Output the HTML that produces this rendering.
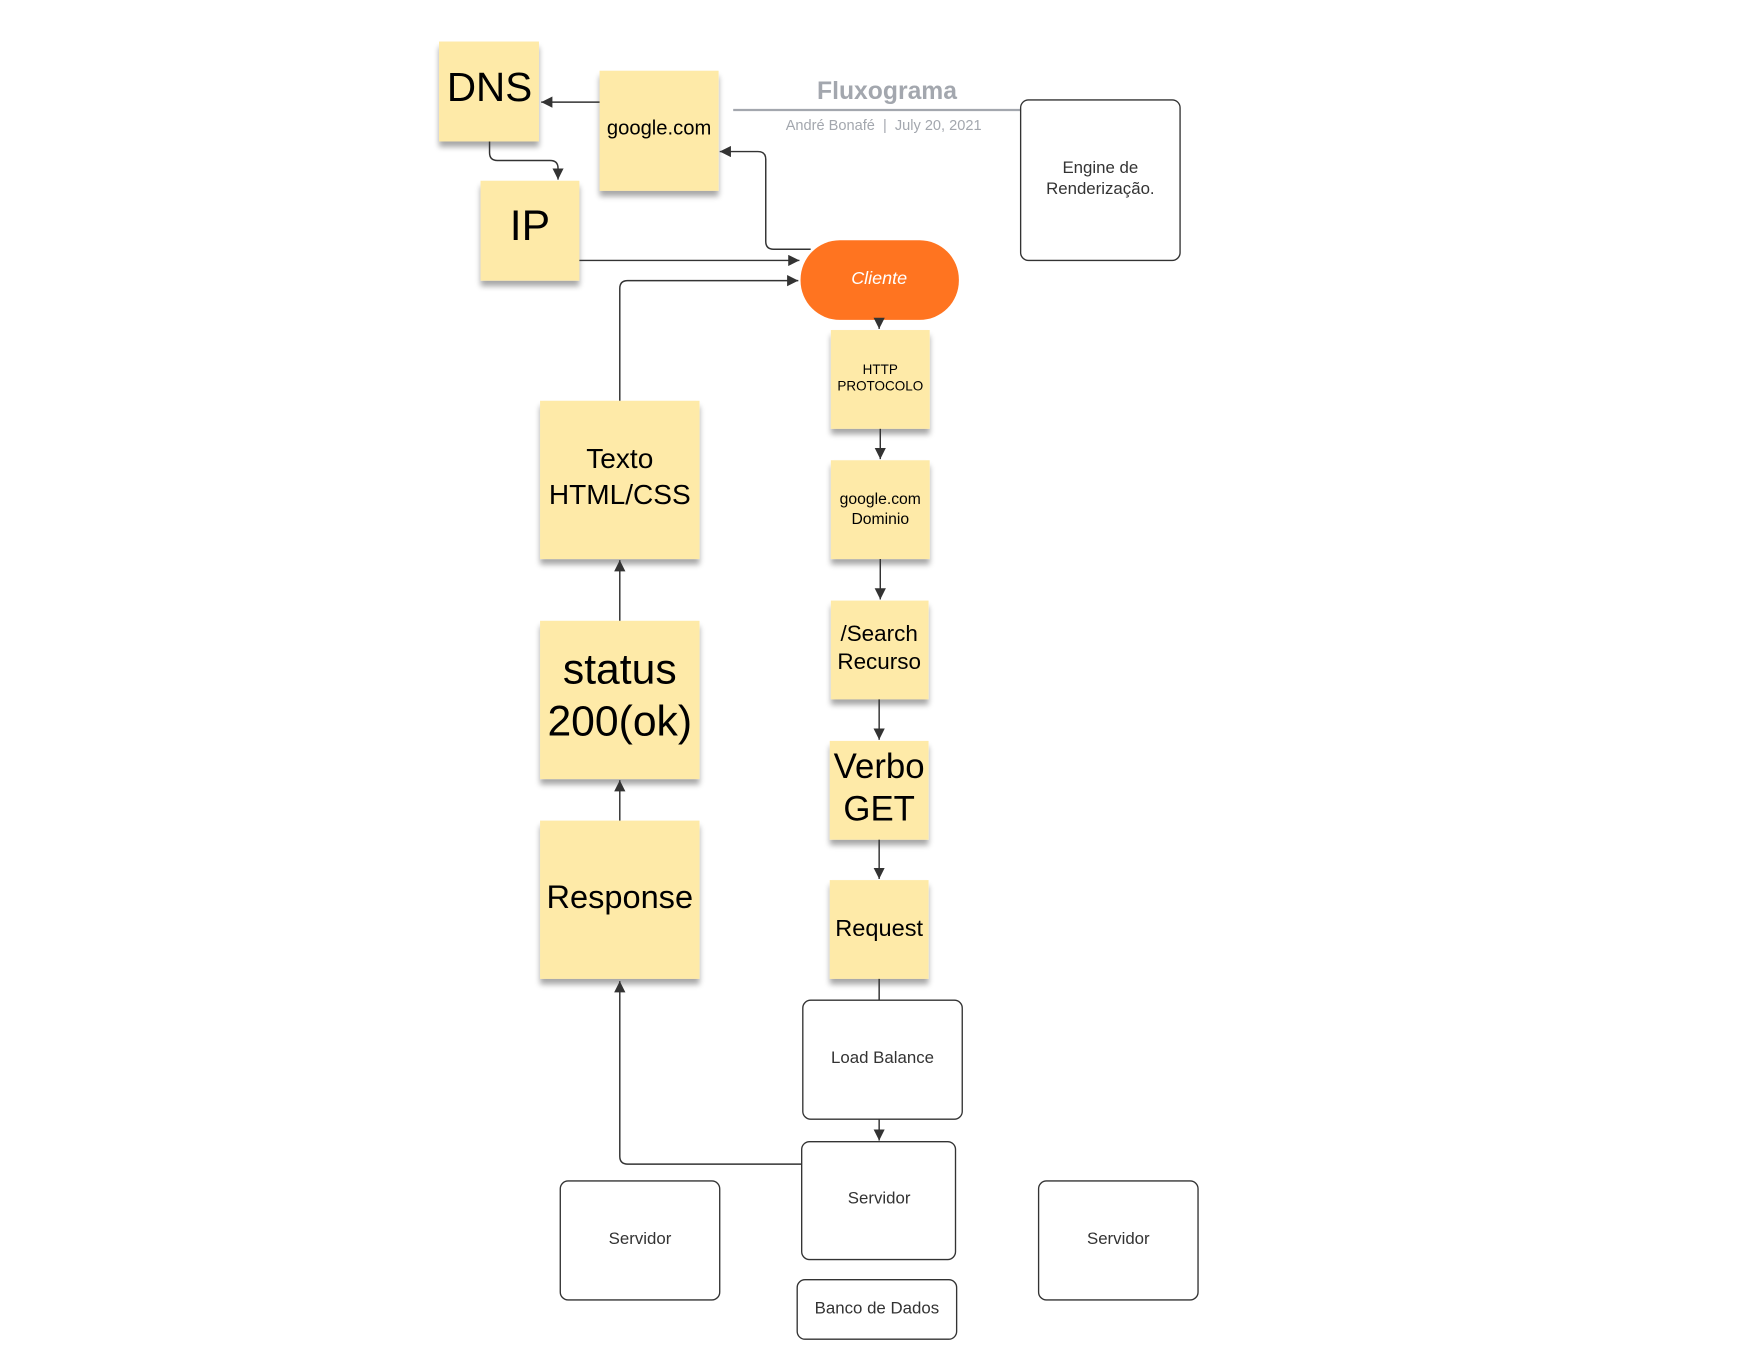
<!DOCTYPE html>
<html><head><meta charset="utf-8"><style>
html,body{margin:0;padding:0;background:#fff;width:1760px;height:1360px;overflow:hidden}
svg{display:block}
text{font-family:"Liberation Sans",sans-serif;text-anchor:middle}
</style></head><body>
<svg width="1760" height="1360" viewBox="0 0 1567.5 1211.5" preserveAspectRatio="none" xmlns="http://www.w3.org/2000/svg">
<defs>
<marker id="a" viewBox="0 0 10 10" refX="10" refY="5" markerWidth="10" markerHeight="10" orient="auto-start-reverse" markerUnits="userSpaceOnUse"><path d="M0,0 L10,5 L0,10 z" fill="#333"/></marker>
<filter id="sh" x="-10%" y="-10%" width="120%" height="130%"><feGaussianBlur in="SourceAlpha" stdDeviation="2.5"/><feOffset dx="0" dy="5"/><feComponentTransfer><feFuncA type="linear" slope="0.35"/></feComponentTransfer><feMerge><feMergeNode/><feMergeNode in="SourceGraphic"/></feMerge></filter>
</defs>
<g fill="#feeaa8" filter="url(#sh)">
<rect x="391" y="37" width="89" height="89"/>
<rect x="534" y="63" width="106" height="107"/>
<rect x="428" y="161" width="88" height="89"/>
<rect x="740" y="294" width="88" height="88"/>
<rect x="740" y="410" width="88" height="88"/>
<rect x="740" y="535" width="87" height="88"/>
<rect x="739" y="660" width="88" height="88"/>
<rect x="739" y="784" width="88" height="88"/>
<rect x="481" y="357" width="142" height="141"/>
<rect x="481" y="553" width="142" height="141"/>
<rect x="481" y="731" width="142" height="141"/>
</g>
<g fill="#000">
<text x="436" y="90" font-size="36">DNS</text>
<text x="587" y="120" font-size="18">google.com</text>
<text x="472" y="214" font-size="38">IP</text>
<text x="784" y="333" font-size="12">HTTP</text>
<text x="784" y="348" font-size="12">PROTOCOLO</text>
<text x="784" y="449" font-size="14">google.com</text>
<text x="784" y="467" font-size="14">Dominio</text>
<text x="783" y="571" font-size="20">/Search</text>
<text x="783" y="596" font-size="20">Recurso</text>
<text x="783" y="693" font-size="31">Verbo</text>
<text x="783" y="731" font-size="31">GET</text>
<text x="783" y="834" font-size="21">Request</text>
<text x="552" y="417" font-size="25">Texto</text>
<text x="552" y="449" font-size="25">HTML/CSS</text>
<text x="552" y="609" font-size="38">status</text>
<text x="552" y="655" font-size="38">200(ok)</text>
<text x="552" y="809" font-size="29">Response</text>
</g>
<text x="790" y="88" font-size="22" font-weight="bold" fill="#a3a7ae">Fluxograma</text>
<line x1="653" y1="98" x2="910" y2="98" stroke="#a3a7ae" stroke-width="2"/>
<text x="787" y="116" font-size="13" fill="#a3a7ae">André Bonafé &#160;|&#160; July 20, 2021</text>
<g fill="#fff" stroke="#333" stroke-width="1.2">
<rect x="909" y="89" width="142" height="143" rx="7"/>
<rect x="715" y="891" width="142" height="106" rx="7"/>
<rect x="714" y="1017" width="137" height="105" rx="7"/>
<rect x="499" y="1052" width="142" height="106" rx="7"/>
<rect x="925" y="1052" width="142" height="106" rx="7"/>
<rect x="710" y="1140" width="142" height="53" rx="7"/>
</g>
<g fill="#333" font-size="15">
<text x="980" y="154">Engine de</text>
<text x="980" y="173">Renderização.</text>
<text x="786" y="947">Load Balance</text>
<text x="783" y="1072">Servidor</text>
<text x="570" y="1108">Servidor</text>
<text x="996" y="1108">Servidor</text>
<text x="781" y="1170">Banco de Dados</text>
</g>
<rect x="713" y="214" width="141" height="71" rx="35" fill="#ff7420"/>
<text x="783" y="253" font-size="16" font-style="italic" fill="#fff">Cliente</text>
<g fill="none" stroke="#333" stroke-width="1.3">
<path d="M534 91 H482" marker-end="url(#a)"/>
<path d="M436 126 V136 Q436 143 443 143 H490 Q497 143 497 150 V160" marker-end="url(#a)"/>
<path d="M516 232 H712" marker-end="url(#a)"/>
<path d="M722 222 H689 Q682 222 682 215 V142 Q682 135 675 135 H641" marker-end="url(#a)"/>
<path d="M552 357 V257 Q552 250 559 250 H711" marker-end="url(#a)"/>
<path d="M783 285 V293" marker-end="url(#a)"/>
<path d="M784 382 V409" marker-end="url(#a)"/>
<path d="M784 498 V534" marker-end="url(#a)"/>
<path d="M783 623 V659" marker-end="url(#a)"/>
<path d="M783 748 V783" marker-end="url(#a)"/>
<path d="M783 872 V891"/>
<path d="M783 997 V1016" marker-end="url(#a)"/>
<path d="M714 1037 H559 Q552 1037 552 1030 V874" marker-end="url(#a)"/>
<path d="M552 553 V499" marker-end="url(#a)"/>
<path d="M552 731 V695" marker-end="url(#a)"/>
</g>
</svg>
</body></html>
